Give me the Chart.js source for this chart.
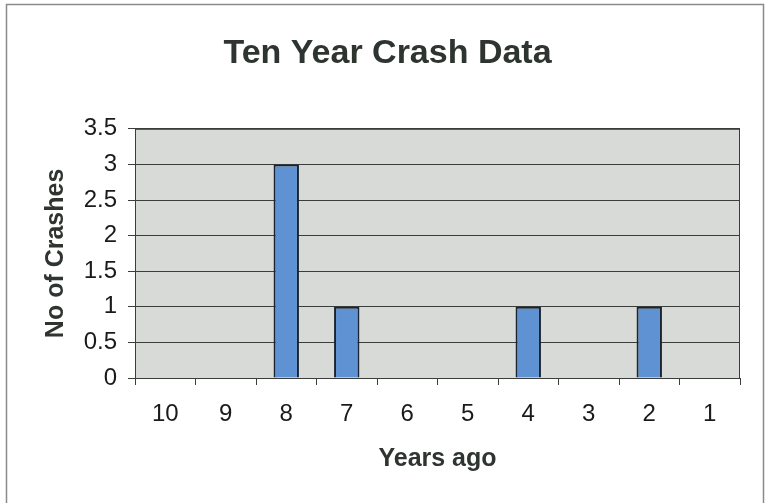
<!DOCTYPE html>
<html lang="en">
<head>
    <meta charset="UTF-8">
    <title>Ten Year Crash Data</title>
    <script src="https://cdn.jsdelivr.net/npm/chart.js@4"></script>
    <style>
        body {
            margin: 0;
            background: #ffffff;
        }
        .chart-box {
            width: 766px;
            height: 503px;
        }
    </style>
</head>
<body>
    <div class="chart-box">
        <canvas id="crashChart" width="766" height="503"></canvas>
    </div>

    <script>
        // data
        const yearsAgo = ['10', '9', '8', '7', '6', '5', '4', '3', '2', '1'];
        const crashes = [0, 0, 3, 1, 0, 0, 1, 0, 1, 0];
        const yMin = 0;
        const yMax = 3.5;
        const yStep = 0.5;

        const fontFamily = '"Liberation Sans", Arial, sans-serif';

        // grey plot background, plot border and the outer frame
        const framePlugin = {
            id: 'frame',
            beforeDraw(chart) {
                const { ctx, chartArea: a } = chart;
                ctx.save();
                ctx.fillStyle = '#ffffff';
                ctx.fillRect(0, 0, chart.width, chart.height);
                ctx.fillStyle = '#d8dad7';
                ctx.fillRect(a.left, a.top, a.right - a.left, a.bottom - a.top);
                ctx.strokeStyle = '#8a8a8a';
                ctx.lineWidth = 1.5;
                ctx.strokeRect(6.5, 4.5, 757, 520);
                ctx.restore();
            },
            afterDatasetsDraw(chart) {
                const { ctx, chartArea: a } = chart;
                ctx.save();
                ctx.strokeStyle = '#3a3d3a';
                ctx.lineWidth = 1;
                ctx.strokeRect(a.left + 0.5, a.top + 0.5, a.right - a.left - 1, a.bottom - a.top);
                ctx.restore();
            }
        };

        new Chart(document.getElementById('crashChart'), {
            type: 'bar',
            data: {
                labels: yearsAgo,
                datasets: [{
                    label: 'No of Crashes',
                    data: crashes,
                    backgroundColor: '#5e92d2',
                    borderColor: '#1b2330',
                    borderWidth: 2,
                    categoryPercentage: 1,
                    barPercentage: 0.42
                }]
            },
            options: {
                responsive: false,
                animation: false,
                layout: {
                    padding: { left: 9, right: 0, top: 0, bottom: 0 }
                },
                plugins: {
                    legend: { display: false },
                    tooltip: { enabled: false },
                    title: {
                        display: true,
                        text: 'Ten Year Crash Data',
                        color: '#2e3530',
                        font: { family: fontFamily, size: 34, weight: 'bold' },
                        padding: { top: 33, bottom: 55 }
                    }
                },
                scales: {
                    x: {
                        grid: {
                            display: true,
                            offset: true,
                            drawOnChartArea: false,
                            drawTicks: true,
                            tickLength: 7,
                            color: '#3a3d3a'
                        },
                        border: { display: true, color: '#3a3d3a' },
                        ticks: {
                            color: '#1a1a1a',
                            padding: 15,
                            font: { family: fontFamily, size: 24 }
                        },
                        title: {
                            display: true,
                            text: 'Years ago',
                            color: '#2e3530',
                            font: { family: fontFamily, size: 25, weight: 'bold' },
                            padding: { top: 0, bottom: 29 }
                        },
                        afterFit(scale) { scale.height = 125; }
                    },
                    y: {
                        min: yMin,
                        max: yMax,
                        grid: {
                            color: '#3a3d3a',
                            lineWidth: 1,
                            drawTicks: true,
                            tickLength: 7
                        },
                        border: { display: true, color: '#3a3d3a' },
                        ticks: {
                            stepSize: yStep,
                            color: '#1a1a1a',
                            padding: 11,
                            font: { family: fontFamily, size: 24 },
                            callback: (value) => String(value)
                        },
                        title: {
                            display: true,
                            text: 'No of Crashes',
                            color: '#2e3530',
                            font: { family: fontFamily, size: 25, weight: 'bold' },
                            padding: { top: 32, bottom: 0 }
                        },
                        afterFit(scale) { scale.width = 126; }
                    },
                    y2: {
                        position: 'right',
                        display: true,
                        grid: { display: false },
                        border: { display: false },
                        ticks: { display: false },
                        afterFit(scale) { scale.width = 26; }
                    }
                }
            },
            plugins: [framePlugin]
        });
    </script>
</body>
</html>
